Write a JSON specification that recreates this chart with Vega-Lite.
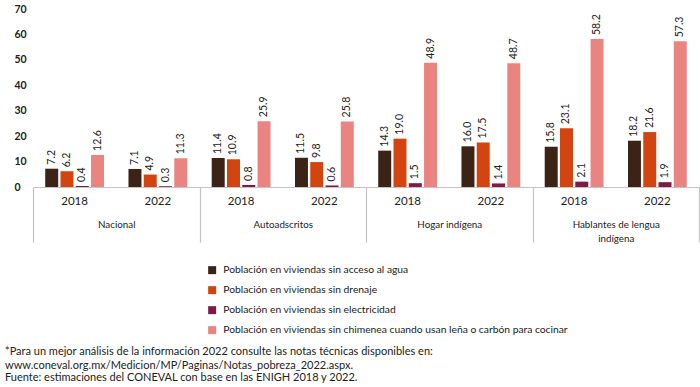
{
  "$schema": "https://vega.github.io/schema/vega-lite/v6.json",
  "width": 666,
  "height": 178,
  "autosize": {"type": "none"},
  "padding": {"left": 33, "top": 9, "right": 1, "bottom": 200},
  "config": {
    "font": "Lato",
    "view": {"stroke": null},
    "axis": {"labelFont": "Lato", "titleFont": "Lato"}
  },
  "title": {
    "text": ["*Para un mejor análisis de la información 2022 consulte las notas técnicas disponibles en:", "www.coneval.org.mx/Medicion/MP/Paginas/Notas_pobreza_2022.aspx."],
    "subtitle": "Fuente: estimaciones del CONEVAL con base en las ENIGH 2018 y 2022.",
    "orient": "bottom",
    "anchor": "start",
    "frame": "group",
    "dx": -28,
    "offset": 10,
    "fontSize": 11,
    "fontWeight": "normal",
    "color": "#222222",
    "lineHeight": 14,
    "subtitleFontSize": 11,
    "subtitleColor": "#222222",
    "subtitlePadding": 1
  },
  "data": {
    "values": [
      {"cat": "Nacional", "g": "Nacional|2018", "serie": "Población en viviendas sin acceso al agua", "v": 7.2},
      {"cat": "Nacional", "g": "Nacional|2018", "serie": "Población en viviendas sin drenaje", "v": 6.2},
      {"cat": "Nacional", "g": "Nacional|2018", "serie": "Población en viviendas sin electricidad", "v": 0.4},
      {"cat": "Nacional", "g": "Nacional|2018", "serie": "Población en viviendas sin chimenea cuando usan leña o carbón para cocinar", "v": 12.6},
      {"cat": "Nacional", "g": "Nacional|2022", "serie": "Población en viviendas sin acceso al agua", "v": 7.1},
      {"cat": "Nacional", "g": "Nacional|2022", "serie": "Población en viviendas sin drenaje", "v": 4.9},
      {"cat": "Nacional", "g": "Nacional|2022", "serie": "Población en viviendas sin electricidad", "v": 0.3},
      {"cat": "Nacional", "g": "Nacional|2022", "serie": "Población en viviendas sin chimenea cuando usan leña o carbón para cocinar", "v": 11.3},
      {"cat": "Autoadscritos", "g": "Autoadscritos|2018", "serie": "Población en viviendas sin acceso al agua", "v": 11.4},
      {"cat": "Autoadscritos", "g": "Autoadscritos|2018", "serie": "Población en viviendas sin drenaje", "v": 10.9},
      {"cat": "Autoadscritos", "g": "Autoadscritos|2018", "serie": "Población en viviendas sin electricidad", "v": 0.8},
      {"cat": "Autoadscritos", "g": "Autoadscritos|2018", "serie": "Población en viviendas sin chimenea cuando usan leña o carbón para cocinar", "v": 25.9},
      {"cat": "Autoadscritos", "g": "Autoadscritos|2022", "serie": "Población en viviendas sin acceso al agua", "v": 11.5},
      {"cat": "Autoadscritos", "g": "Autoadscritos|2022", "serie": "Población en viviendas sin drenaje", "v": 9.8},
      {"cat": "Autoadscritos", "g": "Autoadscritos|2022", "serie": "Población en viviendas sin electricidad", "v": 0.6},
      {"cat": "Autoadscritos", "g": "Autoadscritos|2022", "serie": "Población en viviendas sin chimenea cuando usan leña o carbón para cocinar", "v": 25.8},
      {"cat": "Hogar indígena", "g": "Hogar indígena|2018", "serie": "Población en viviendas sin acceso al agua", "v": 14.3},
      {"cat": "Hogar indígena", "g": "Hogar indígena|2018", "serie": "Población en viviendas sin drenaje", "v": 19.0},
      {"cat": "Hogar indígena", "g": "Hogar indígena|2018", "serie": "Población en viviendas sin electricidad", "v": 1.5},
      {"cat": "Hogar indígena", "g": "Hogar indígena|2018", "serie": "Población en viviendas sin chimenea cuando usan leña o carbón para cocinar", "v": 48.9},
      {"cat": "Hogar indígena", "g": "Hogar indígena|2022", "serie": "Población en viviendas sin acceso al agua", "v": 16.0},
      {"cat": "Hogar indígena", "g": "Hogar indígena|2022", "serie": "Población en viviendas sin drenaje", "v": 17.5},
      {"cat": "Hogar indígena", "g": "Hogar indígena|2022", "serie": "Población en viviendas sin electricidad", "v": 1.4},
      {"cat": "Hogar indígena", "g": "Hogar indígena|2022", "serie": "Población en viviendas sin chimenea cuando usan leña o carbón para cocinar", "v": 48.7},
      {"cat": "Hablantes de lengua indígena", "g": "Hablantes de lengua indígena|2018", "serie": "Población en viviendas sin acceso al agua", "v": 15.8},
      {"cat": "Hablantes de lengua indígena", "g": "Hablantes de lengua indígena|2018", "serie": "Población en viviendas sin drenaje", "v": 23.1},
      {"cat": "Hablantes de lengua indígena", "g": "Hablantes de lengua indígena|2018", "serie": "Población en viviendas sin electricidad", "v": 2.1},
      {"cat": "Hablantes de lengua indígena", "g": "Hablantes de lengua indígena|2018", "serie": "Población en viviendas sin chimenea cuando usan leña o carbón para cocinar", "v": 58.2},
      {"cat": "Hablantes de lengua indígena", "g": "Hablantes de lengua indígena|2022", "serie": "Población en viviendas sin acceso al agua", "v": 18.2},
      {"cat": "Hablantes de lengua indígena", "g": "Hablantes de lengua indígena|2022", "serie": "Población en viviendas sin drenaje", "v": 21.6},
      {"cat": "Hablantes de lengua indígena", "g": "Hablantes de lengua indígena|2022", "serie": "Población en viviendas sin electricidad", "v": 1.9},
      {"cat": "Hablantes de lengua indígena", "g": "Hablantes de lengua indígena|2022", "serie": "Población en viviendas sin chimenea cuando usan leña o carbón para cocinar", "v": 57.3}
    ]
  },
  "layer": [
    {
      "encoding": {
        "x": {
          "field": "g", "type": "nominal", "sort": null,
          "scale": {"paddingInner": 0, "paddingOuter": 0},
          "axis": {
            "title": null, "orient": "bottom", "ticks": false, "domainColor": "#c4c4c4", "domainWidth": 1.2,
            "labelExpr": "split(datum.value, '|')[1]", "labelAngle": 0,
            "labelFontSize": 11.5, "labelColor": "#222222", "labelPadding": 8,
            "labelBaseline": "top"
          }
        },
        "xOffset": {
          "field": "serie", "type": "nominal", "sort": null,
          "scale": {"paddingInner": 0.15, "paddingOuter": 0.8}
        },
        "y": {
          "field": "v", "type": "quantitative",
          "scale": {"domain": [0, 70], "nice": false},
          "axis": {
            "title": null, "values": [0, 10, 20, 30, 40, 50, 60, 70], "grid": false,
            "domain": false, "ticks": false, "labelAlign": "left", "labelPadding": 19,
            "labelOverlap": false, "labelFontSize": 10.5, "labelColor": "#222222", "labelFontWeight": "bold"
          }
        }
      },
      "layer": [
        {
          "mark": {"type": "bar"},
          "encoding": {
            "color": {
              "field": "serie", "type": "nominal", "sort": null,
              "scale": {
                "domain": [
                  "Población en viviendas sin acceso al agua",
                  "Población en viviendas sin drenaje",
                  "Población en viviendas sin electricidad",
                  "Población en viviendas sin chimenea cuando usan leña o carbón para cocinar"
                ],
                "range": ["#3b2416", "#d24410", "#7d1a45", "#e98481"]
              },
              "legend": {
                "title": null, "orient": "none", "legendX": 174, "legendY": 256,
                "direction": "vertical", "symbolType": "square", "symbolSize": 64,
                "rowPadding": 9, "labelFontSize": 10.3, "labelColor": "#222222",
                "labelLimit": 500, "labelOffset": 6
              }
            }
          }
        },
        {
          "mark": {"type": "text", "angle": 270, "align": "left", "baseline": "middle", "dx": 4, "fontSize": 10.5, "color": "#222222"},
          "encoding": {
            "text": {"field": "v", "type": "quantitative", "format": ".1f"}
          }
        }
      ]
    },
    {
      "mark": {"type": "tick", "opacity": 0},
      "encoding": {
        "x": {
          "field": "cat", "type": "nominal", "sort": null,
          "scale": {"paddingInner": 0, "paddingOuter": 0},
          "axis": {
            "title": null, "orient": "bottom", "domain": false, "tickBand": "extent", "tickSize": 55,
            "tickColor": "#c4c4c4", "tickWidth": 1.2, "labelAngle": 0,
            "labelPadding": -23, "labelBaseline": "top", "labelFontSize": 9.8,
            "labelColor": "#222222", "labelLineHeight": 14,
            "labelExpr": "datum.value == 'Hablantes de lengua indígena' ? ['Hablantes de lengua', 'indígena'] : datum.value"
          }
        }
      }
    }
  ],
  "resolve": {"scale": {"x": "independent", "xOffset": "independent"}, "axis": {"x": "independent"}}
}
